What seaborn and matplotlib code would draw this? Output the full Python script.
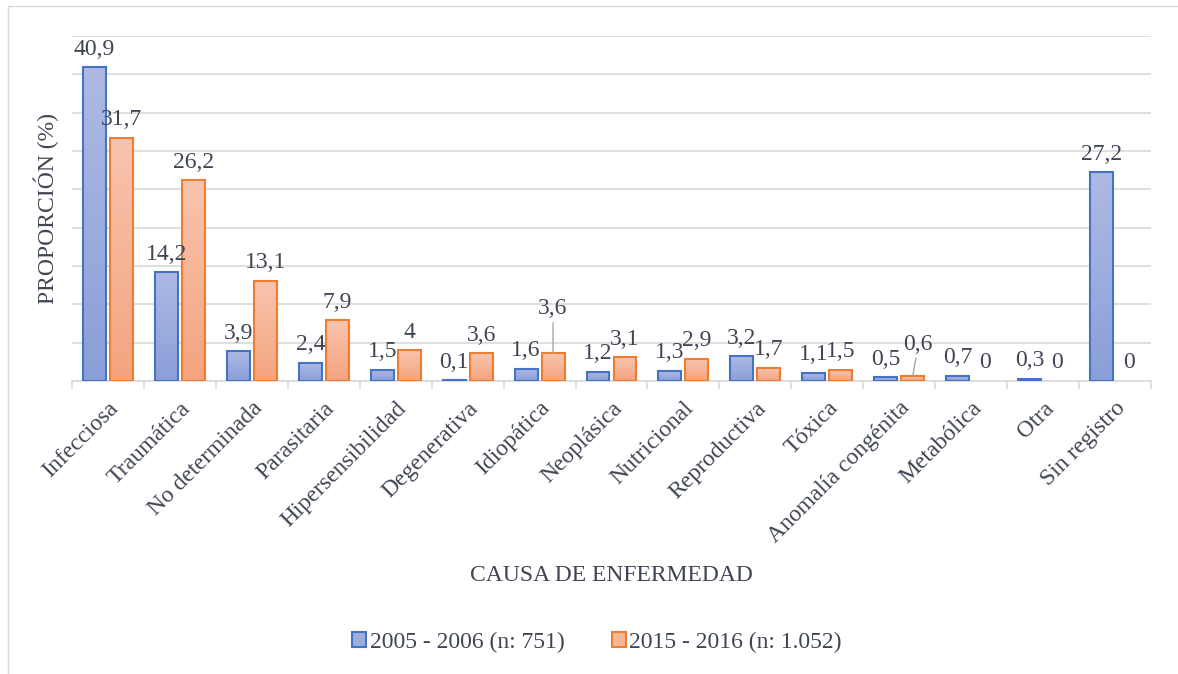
import numpy as np
import pandas as pd
import seaborn as sns
import matplotlib.pyplot as plt
from matplotlib.lines import Line2D
from matplotlib.patches import Patch
from matplotlib.colors import LinearSegmentedColormap

causes = ["Infecciosa", "Traumática", "No determinada", "Parasitaria", "Hipersensibilidad",
          "Degenerativa", "Idiopática", "Neoplásica", "Nutricional", "Reproductiva",
          "Tóxica", "Anomalía congénita", "Metabólica", "Otra", "Sin registro"]
periods = ["2005 - 2006 (n: 751)", "2015 - 2016 (n: 1.052)"]
values_2005 = [40.9, 14.2, 3.9, 2.4, 1.5, 0.1, 1.6, 1.2, 1.3, 3.2, 1.1, 0.5, 0.7, 0.3, 27.2]
values_2015 = [31.7, 26.2, 13.1, 7.9, 4, 3.6, 3.6, 3.1, 2.9, 1.7, 1.5, 0.6, 0, 0, 0]

df = pd.DataFrame({
    "causa": causes * 2,
    "periodo": [periods[0]] * len(causes) + [periods[1]] * len(causes),
    "proporcion": values_2005 + values_2015,
})

edge_colors = ["#4472c4", "#ed7d31"]
grad_colors = [("#8a9fd9", "#aebae4"), ("#f4a47f", "#f8c4ae")]
text_color = "#404553"
grid_color = "#d9d9d9"
fs = 17

sns.set_theme(style="white")
plt.rcParams["font.family"] = ["Liberation Serif", "DejaVu Serif"]

W, H = 1178, 674
fig = plt.figure(figsize=(W / 100, H / 100), dpi=100)
ax = fig.add_axes([72 / W, 1 - 381 / H, (1151 - 72) / W, (381 - 36) / H])

sns.barplot(data=df, x="causa", y="proporcion", hue="periodo", order=causes,
            hue_order=periods, palette=edge_colors, width=0.75, gap=0.15,
            legend=False, ax=ax)

# gradient fills like the original spreadsheet chart
special = {(1, "Idiopática"): (0, 32), (1, "Anomalía congénita"): (4, 23)}
for i, cont in enumerate(ax.containers):
    cmap = LinearSegmentedColormap.from_list("g%d" % i, list(grad_colors[i]))
    vals = values_2005 if i == 0 else values_2015
    for bar, v, c in zip(cont, vals, causes):
        x0, w, h = bar.get_x(), bar.get_width(), bar.get_height()
        if h > 0:
            ax.imshow(np.linspace(0, 1, 100).reshape(-1, 1), extent=[x0, x0 + w, 0, h],
                      origin="lower", cmap=cmap, aspect="auto", zorder=2)
            bar.set_facecolor("none")
            bar.set_edgecolor(edge_colors[i])
            bar.set_linewidth(1.5)
            bar.set_zorder(3)
        else:
            bar.set_visible(False)
        label = f"{v:g}".replace(".", ",")
        dx, dy = special.get((i, c), (0, 13))
        kw = {}
        if (i, c) in special:
            kw["arrowprops"] = dict(arrowstyle="-", color="#a6a6a6", lw=1, shrinkA=0, shrinkB=0)
        ax.annotate(label, xy=(x0 + w / 2, h), xytext=(dx, dy), textcoords="offset points",
                    ha="center", va="center", fontsize=fs, color=text_color, zorder=4, **kw)

ax.set_xlim(-0.5, len(causes) - 0.5)
ax.set_ylim(0, 45)
ax.set_yticks(np.arange(0, 50, 5))
ax.set_yticklabels([])
ax.yaxis.grid(True, color=grid_color, linewidth=1.2)
ax.set_axisbelow(True)
for s in ["top", "right", "left"]:
    ax.spines[s].set_visible(False)
ax.spines["bottom"].set_color(grid_color)
ax.spines["bottom"].set_linewidth(1.2)

ax.set_xticks(np.arange(-0.5, len(causes), 1), minor=True)
ax.tick_params(axis="x", which="minor", length=6, color=grid_color, width=1.2, bottom=True)
ax.tick_params(axis="x", which="major", length=0, pad=12)
ax.tick_params(axis="y", length=0)
ax.set_xticks(range(len(causes)))
ax.set_xticklabels(causes, rotation=45, ha="right", rotation_mode="anchor",
                   fontsize=fs, color=text_color)

ax.set_ylabel("PROPORCIÓN (%)", fontsize=fs, color=text_color, labelpad=6)
ax.set_xlabel("CAUSA DE ENFERMEDAD", fontsize=fs, color=text_color)
ax.xaxis.set_label_coords(0.5, (381 - 565) / 345)

handles = [Patch(facecolor="#9cadde", edgecolor=edge_colors[0], linewidth=1.5),
           Patch(facecolor="#f6b595", edgecolor=edge_colors[1], linewidth=1.5)]
fig.legend(handles=handles, labels=periods, loc="center", bbox_to_anchor=(597 / W, 1 - 642 / H),
           ncol=2, frameon=False, fontsize=fs, handlelength=0.6, handleheight=0.6,
           handletextpad=0.15, columnspacing=2.0, labelcolor=text_color)

# chart frame
fig.add_artist(Line2D([8 / W, 8 / W], [0, 1 - 6 / H], transform=fig.transFigure, color=grid_color, lw=1))
fig.add_artist(Line2D([8 / W, 1], [1 - 6 / H, 1 - 6 / H], transform=fig.transFigure, color=grid_color, lw=1))

fig.savefig("out.png", dpi=100)
